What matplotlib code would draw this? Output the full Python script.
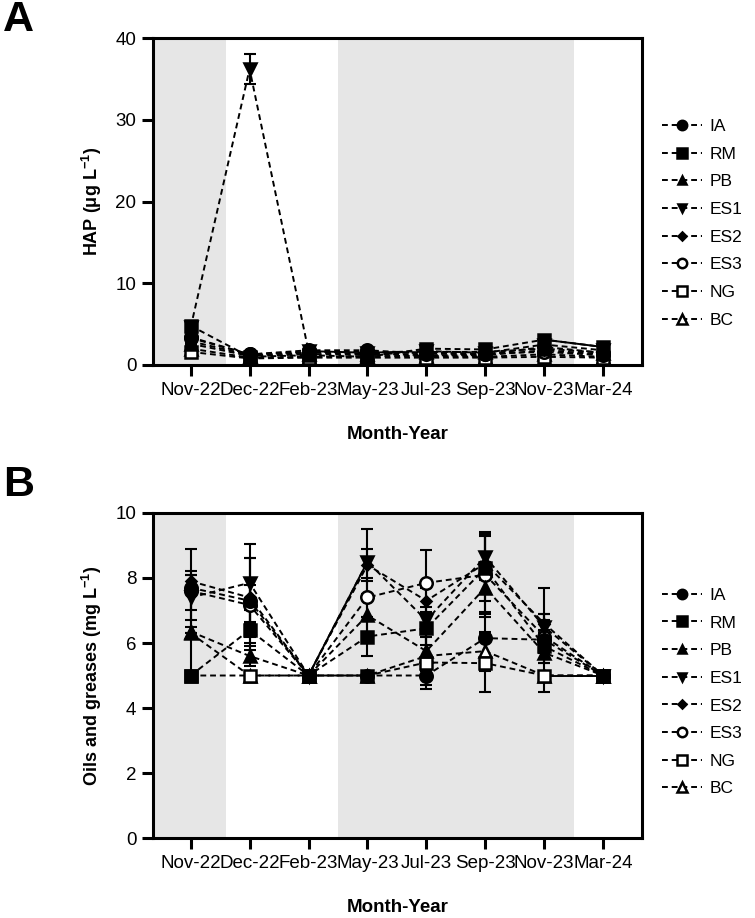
import matplotlib
matplotlib.use("Agg")
import matplotlib.pyplot as plt
import numpy as np

plt.rcParams['font.family'] = ['Liberation Sans', 'DejaVu Sans']
plt.rcParams['mathtext.fontset'] = 'custom'
plt.rcParams['mathtext.rm'] = 'Liberation Sans'
plt.rcParams['mathtext.bf'] = 'Liberation Sans:bold'

months = ['Nov-22', 'Dec-22', 'Feb-23', 'May-23', 'Jul-23', 'Sep-23', 'Nov-23', 'Mar-24']
sites = ['IA', 'RM', 'PB', 'ES1', 'ES2', 'ES3', 'NG', 'BC']

# panel A: HAP (ug/L)
hap = {
    'IA':  [3.3, 1.3, 1.8, 1.8, 1.4, 1.3, 2.2, 1.5],
    'RM':  [4.8, 1.0, 1.2, 1.0, 2.0, 1.9, 3.1, 2.2],
    'PB':  [2.6, 1.1, 1.3, 1.3, 1.6, 1.6, 2.0, 1.5],
    'ES1': [4.6, 36.2, 1.7, 1.5, 1.7, 1.5, 2.5, 1.8],
    'ES2': [2.9, 1.2, 1.5, 1.4, 1.2, 1.2, 1.8, 1.3],
    'ES3': [3.4, 1.3, 1.6, 1.6, 1.5, 1.4, 1.6, 1.2],
    'NG':  [1.6, 0.8, 0.9, 0.9, 0.9, 0.9, 1.0, 0.9],
    'BC':  [2.0, 0.9, 1.0, 1.1, 1.1, 1.0, 1.3, 1.0],
}
hap_err = {
    'IA':  [0.3, 0.1, 0.1, 0.1, 0.1, 0.1, 0.2, 0.1],
    'RM':  [0.3, 0.1, 0.1, 0.1, 0.2, 0.2, 0.3, 0.2],
    'PB':  [0.2, 0.1, 0.1, 0.1, 0.1, 0.1, 0.2, 0.1],
    'ES1': [0.3, 1.8, 0.1, 0.1, 0.1, 0.1, 0.2, 0.1],
    'ES2': [0.2, 0.1, 0.1, 0.1, 0.1, 0.1, 0.1, 0.1],
    'ES3': [0.2, 0.1, 0.1, 0.1, 0.1, 0.1, 0.1, 0.1],
    'NG':  [0.1, 0.1, 0.1, 0.1, 0.1, 0.1, 0.1, 0.1],
    'BC':  [0.1, 0.1, 0.1, 0.1, 0.1, 0.1, 0.1, 0.1],
}

# panel B: oils and greases (mg/L)
og = {
    'IA':  [7.7, 7.3, 5.0, 5.0, 5.0, 6.15, 6.1, 5.0],
    'RM':  [5.0, 6.4, 5.0, 6.2, 6.45, 8.3, 5.9, 5.0],
    'PB':  [6.35, 5.6, 5.0, 6.85, 5.75, 7.7, 5.7, 5.0],
    'ES1': [7.4, 7.85, 5.0, 8.5, 6.7, 8.65, 6.5, 5.0],
    'ES2': [7.9, 7.4, 5.0, 8.4, 7.3, 8.45, 6.6, 5.0],
    'ES3': [7.6, 7.17, 5.0, 7.4, 7.85, 8.1, 6.2, 5.0],
    'NG':  [5.0, 5.0, 5.0, 5.0, 5.4, 5.38, 5.0, 5.0],
    'BC':  [6.3, 5.0, 5.0, 5.0, 5.6, 5.75, 5.0, 5.0],
}
og_err = {
    'IA':  [1.2, 1.3, 0.0, 0.0, 0.0, 0.8, 1.6, 0.0],
    'RM':  [0.0, 0.6, 0.0, 0.6, 0.5, 1.0, 0.5, 0.0],
    'PB':  [1.3, 0.3, 0.0, 0.5, 0.6, 0.8, 0.3, 0.0],
    'ES1': [0.7, 1.2, 0.0, 1.0, 0.4, 0.7, 0.4, 0.0],
    'ES2': [0.2, 1.2, 0.0, 0.5, 0.4, 0.9, 0.3, 0.0],
    'ES3': [0.6, 0.6, 0.0, 0.6, 1.0, 1.3, 0.5, 0.0],
    'NG':  [0.0, 0.0, 0.0, 0.0, 0.8, 0.9, 0.0, 0.0],
    'BC':  [0.0, 0.0, 0.0, 0.0, 0.9, 0.6, 0.0, 0.0],
}

# segments that come out as solid lines (series, start index)
solid_a = [('RM', 6)]
solid_b = [('ES1', 2), ('NG', 6)]

markers = {'IA': 'o', 'RM': 's', 'PB': '^', 'ES1': 'v', 'ES2': 'D',
           'ES3': 'o', 'NG': 's', 'BC': '^'}
hollow = ['ES3', 'NG', 'BC']
msize = {'IA': 9, 'RM': 9, 'PB': 8, 'ES1': 8, 'ES2': 5.5, 'ES3': 9, 'NG': 9, 'BC': 9}

x = np.arange(len(months))
shade = [(-0.64, 0.6), (2.5, 6.5)]

fig = plt.figure(figsize=(7.55, 9.18), dpi=100)
axA = fig.add_axes([0.2026, 0.6024, 0.6477, 0.3562])
axB = fig.add_axes([0.2026, 0.0871, 0.6477, 0.3541])


def draw(ax, data, err, solid, ylim, yticks, ylabel, leg_y):
    for a, b in shade:
        ax.axvspan(a, b, color='#e6e6e6', lw=0, zorder=0)
    handles = []
    n = len(sites)
    for k, s in enumerate(sites):
        fc = 'white' if s in hollow else 'black'
        z = 3 + (n - k) * 0.1  # first series ends up on top
        ax.errorbar(x, data[s], yerr=err[s], fmt='none', ecolor='black',
                    elinewidth=1.5, capsize=4, capthick=1.5, zorder=2)
        h, = ax.plot(x, data[s], ls=(0, (3, 2)), lw=1.4, color='black',
                     marker=markers[s], ms=msize[s], mfc=fc, mec='black',
                     mew=1.8, zorder=z, label=s)
        handles.append(h)
    for s, i in solid:
        ax.plot(x[i:i + 2], data[s][i:i + 2], ls='-', lw=1.4, color='black', zorder=3)
    ax.set_xlim(-0.64, 7.66)
    ax.set_ylim(*ylim)
    ax.set_yticks(yticks)
    ax.set_xticks(x)
    ax.set_xticklabels(months)
    for sp in ax.spines.values():
        sp.set_linewidth(2.2)
    ax.tick_params(width=2.2, length=8, labelsize=13.5, pad=4)
    ax.set_xlabel('Month-Year', fontsize=13.5, fontweight='bold', labelpad=20)
    ax.set_ylabel(ylabel, fontsize=13, fontweight='bold', labelpad=8)
    leg = ax.legend(handles=handles, loc='upper left', bbox_to_anchor=(1.01, leg_y),
                    frameon=False, fontsize=12.5, handlelength=2.3, handletextpad=0.4,
                    labelspacing=0.72, markerscale=0.75)
    return leg


draw(axA, hap, hap_err, solid_a, (0, 40), [0, 10, 20, 30, 40],
     r'HAP ($\mathbf{\mu}$g L$^{\mathbf{-1}}$)', 0.80)
draw(axB, og, og_err, solid_b, (0, 10), [0, 2, 4, 6, 8, 10],
     r'Oils and greases (mg L$^{\mathbf{-1}}$)', 0.818)

fig.text(0.004, 1.0, 'A', fontsize=31, fontweight='bold', va='top')
fig.text(0.004, 0.493, 'B', fontsize=31, fontweight='bold', va='top')

fig.savefig('out.png', dpi=100)
